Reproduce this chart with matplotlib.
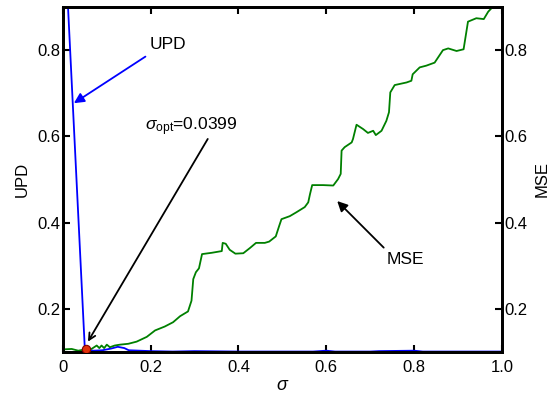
import matplotlib.pyplot as plt

plt.rcParams['font.family'] = ['Liberation Sans', 'DejaVu Sans']
plt.rcParams['mathtext.fontset'] = 'custom'
plt.rcParams['mathtext.rm'] = 'Liberation Sans'
plt.rcParams['mathtext.it'] = 'Liberation Sans:italic'

# UPD curve (left axis)
upd_sigma = [0.0, 0.05, 0.07, 0.09, 0.11, 0.125, 0.14, 0.15, 0.2, 0.25, 0.3,
             0.4, 0.5, 0.57, 0.6, 0.62, 0.7, 0.72, 0.8, 0.82, 0.9, 1.0]
upd_vals = [1.14, 0.105, 0.103, 0.104, 0.108, 0.112, 0.109, 0.104, 0.102, 0.101, 0.102,
            0.101, 0.101, 0.101, 0.103, 0.101, 0.101, 0.102, 0.103, 0.101, 0.101, 0.101]

# MSE curve (right axis)
mse_sigma = [0.0, 0.02, 0.035, 0.05, 0.065, 0.077, 0.083, 0.088, 0.094, 0.1, 0.107,
             0.118, 0.13, 0.149, 0.168, 0.191, 0.21, 0.232, 0.251, 0.267, 0.285, 0.293,
             0.297, 0.303, 0.31, 0.317, 0.339, 0.362, 0.364, 0.371, 0.38, 0.393, 0.411,
             0.426, 0.44, 0.46, 0.47, 0.485, 0.493, 0.498, 0.517, 0.532, 0.551, 0.559,
             0.563, 0.568, 0.593, 0.616, 0.627, 0.633, 0.635, 0.642, 0.658, 0.661,
             0.669, 0.684, 0.695, 0.707, 0.713, 0.726, 0.737, 0.743, 0.746, 0.756,
             0.783, 0.794, 0.797, 0.813, 0.828, 0.847, 0.866, 0.878, 0.897, 0.913,
             0.923, 0.942, 0.959, 0.969, 0.98, 1.0]
mse_vals = [0.106, 0.107, 0.103, 0.106, 0.107, 0.115, 0.109, 0.115, 0.109, 0.117, 0.111,
            0.115, 0.117, 0.119, 0.124, 0.135, 0.150, 0.159, 0.169, 0.183, 0.194, 0.219,
            0.269, 0.285, 0.294, 0.327, 0.330, 0.334, 0.353, 0.351, 0.337, 0.328, 0.329,
            0.341, 0.353, 0.353, 0.356, 0.368, 0.393, 0.408, 0.415, 0.424, 0.436, 0.447,
            0.466, 0.487, 0.487, 0.486, 0.501, 0.513, 0.567, 0.575, 0.586, 0.594,
            0.627, 0.617, 0.608, 0.613, 0.603, 0.613, 0.636, 0.656, 0.702, 0.719,
            0.725, 0.729, 0.744, 0.760, 0.764, 0.771, 0.800, 0.804, 0.798, 0.802,
            0.866, 0.874, 0.872, 0.889, 0.901, 0.93]

dot_sigma = 0.052
dot_upd = 0.106
xticks = [0, 0.2, 0.4, 0.6, 0.8, 1.0]
xticklabels = ['0', '0.2', '0.4', '0.6', '0.8', '1.0']
yticks = [0.2, 0.4, 0.6, 0.8]
yticklabels = ['0.2', '0.4', '0.6', '0.8']

fig = plt.figure(figsize=(5.52, 4.03), dpi=100)
ax = fig.add_axes([0.114, 0.1266, 0.795, 0.856])
ax2 = ax.twinx()

ax.plot(upd_sigma, upd_vals, color='#0000ff', lw=1.3)
ax2.plot(mse_sigma, mse_vals, color='#008000', lw=1.3)
ax2.plot([dot_sigma], [dot_upd], 'o', color='#e0300a', mec='#800000', mew=0.8, ms=6, zorder=5)

for a in (ax, ax2):
    a.set_xlim(0, 1)
    a.set_ylim(0.1, 0.9)
    a.set_yticks(yticks)
    a.set_yticklabels(yticklabels)
    for s in a.spines.values():
        s.set_linewidth(2)
    a.tick_params(direction='in', length=5, width=1.5, labelsize=12, pad=2)
ax.set_xticks(xticks)
ax.set_xticklabels(xticklabels)
ax.tick_params(axis='x', top=True, pad=6)
ax.set_xlabel(r'$\sigma$', fontsize=13, labelpad=1)
ax.set_ylabel('UPD', fontsize=12, labelpad=5)
ax2.set_ylabel('MSE', fontsize=12, labelpad=5)

# text labels
ax2.text(0.239, 0.814, 'UPD', fontsize=12.5, ha='center', va='center')
ax2.text(0.292, 0.622, r'$\sigma_{\mathrm{opt}}$=0.0399', fontsize=12.5, ha='center', va='center')
ax2.text(0.781, 0.315, 'MSE', fontsize=12.5, ha='center', va='center')

# arrows
ax2.annotate('', xy=(0.025, 0.677), xytext=(0.188, 0.785),
             arrowprops=dict(arrowstyle='-|>', color='#0000ff', lw=1.3,
                             mutation_scale=15, shrinkA=0, shrinkB=0))
ax2.annotate('', xy=(0.057, 0.124), xytext=(0.330, 0.594),
             arrowprops=dict(arrowstyle='->', color='black', lw=1.3,
                             mutation_scale=12, shrinkA=0, shrinkB=0))
ax2.annotate('', xy=(0.625, 0.45), xytext=(0.731, 0.342),
             arrowprops=dict(arrowstyle='-|>', color='black', lw=1.3,
                             mutation_scale=15, shrinkA=0, shrinkB=0))

fig.savefig('out.png', dpi=100)
